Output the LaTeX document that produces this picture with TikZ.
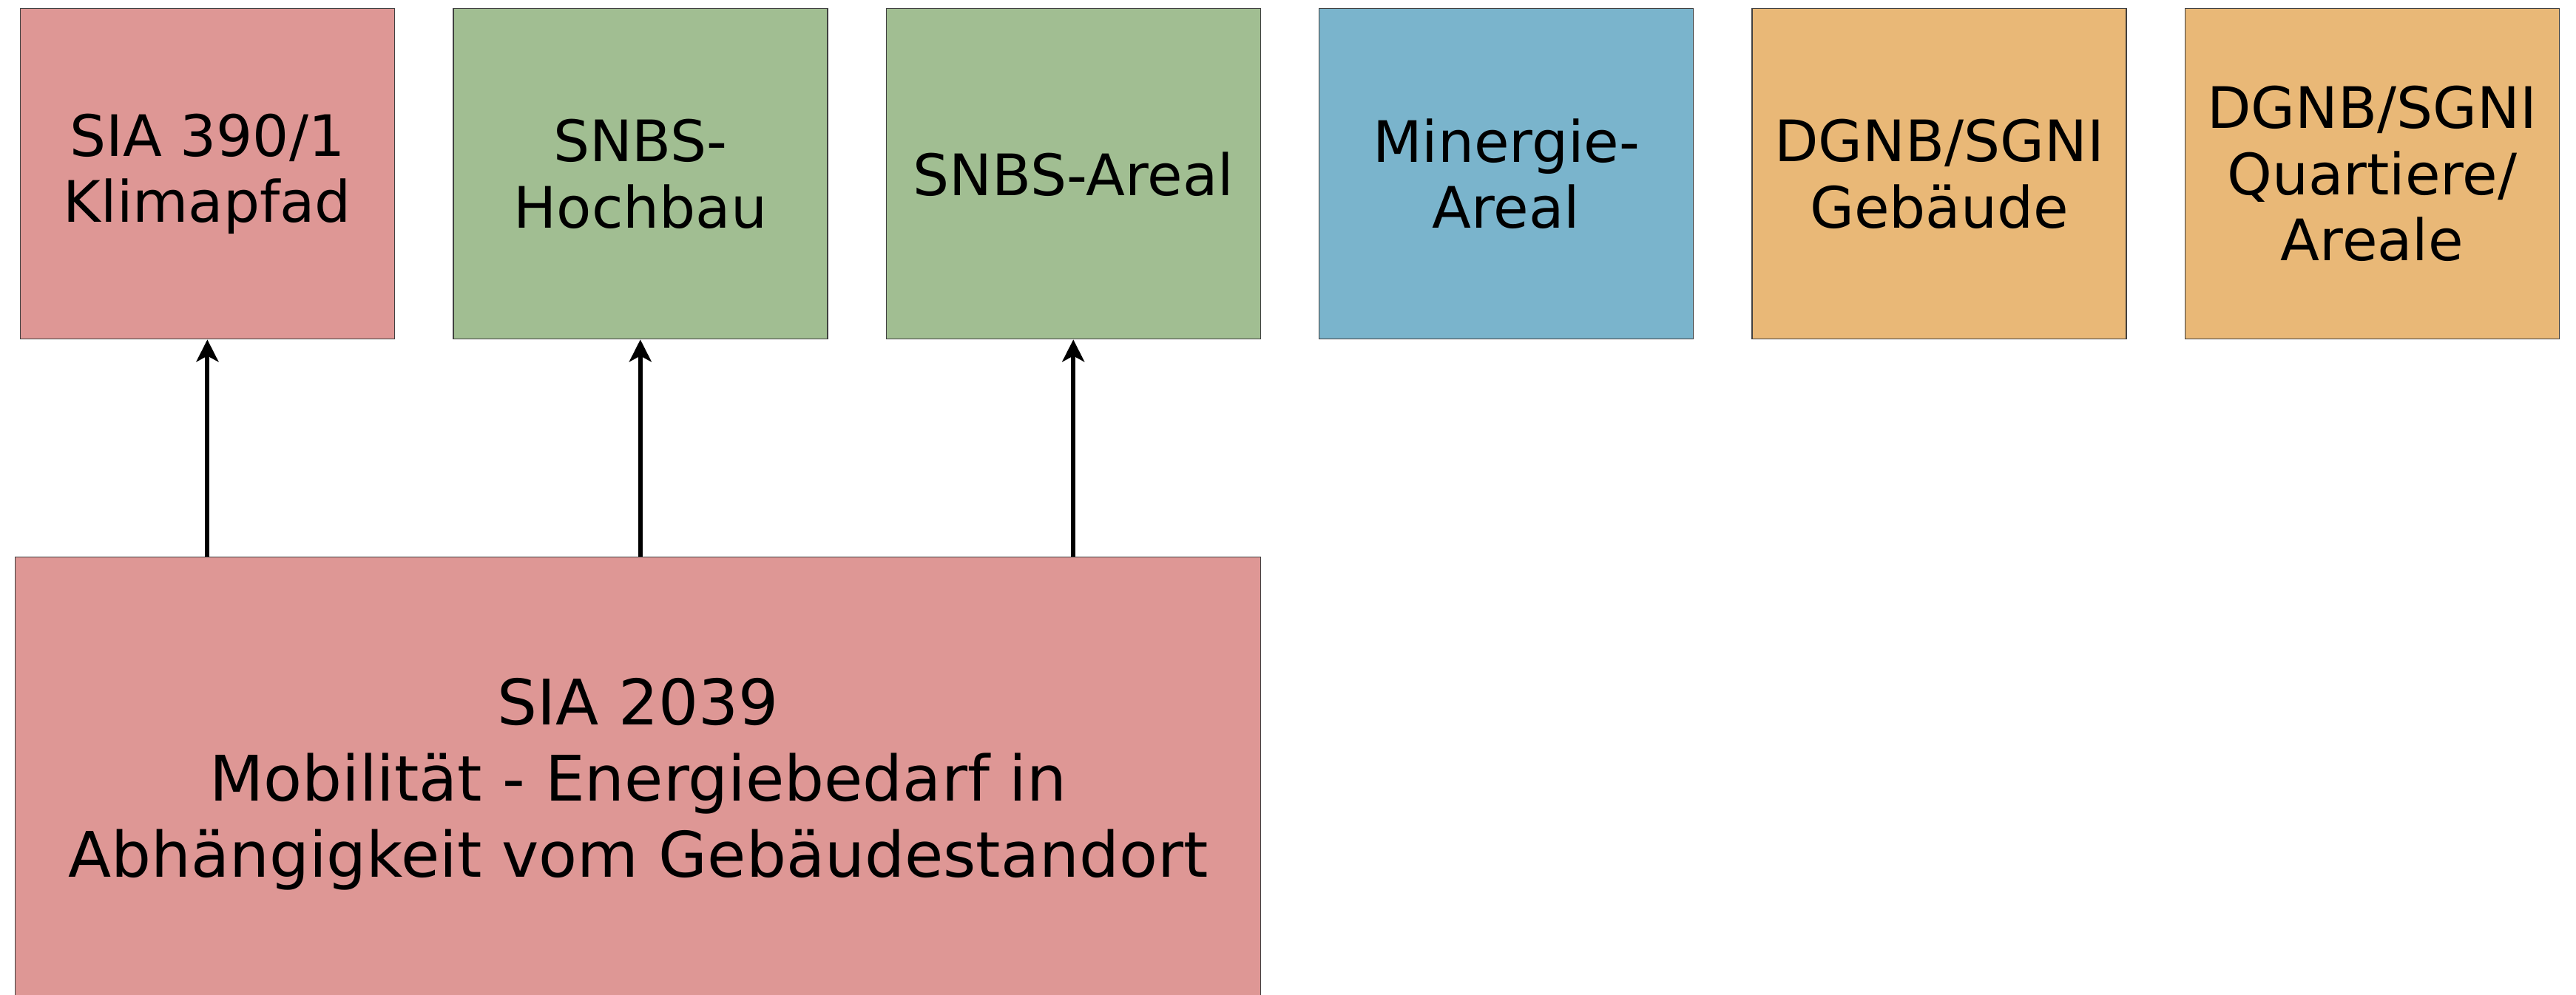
\documentclass[tikz,border=0pt]{standalone}
\usepackage{fontspec}
\setmainfont{DejaVu Sans}
\usetikzlibrary{arrows.meta,positioning}
\definecolor{rose}{HTML}{DE9795}
\definecolor{sage}{HTML}{A1BE92}
\definecolor{sky}{HTML}{7AB4CC}
\definecolor{sand}{HTML}{E9B877}
\definecolor{rim}{HTML}{404040}

\begin{document}
\begin{tikzpicture}[node distance=7.8mm, every node/.style={align=center,font=\fontsize{22}{25.5}\selectfont}, p/.style={draw=rim,line width=0.4pt,minimum width=50.6mm,minimum height=44.7mm,inner sep=0pt}, a/.style={-{Stealth[length=3mm,width=3mm,inset=0.8mm]},line width=1.7pt}]
\clip (0,0) rectangle (34.83,13.46);
\node[p,fill=rose,anchor=north west] (klima) at (0.267,13.35) {SIA 390/1\\Klimapfad};
\node[p,fill=sage,right=of klima] (hochbau) {SNBS-\\Hochbau};
\node[p,fill=sage,right=of hochbau] (areal) {SNBS-Areal};
\node[p,fill=sky,right=of areal] (minergie) {Minergie-\\Areal};
\node[p,fill=sand,right=of minergie] (gebaeude) {DGNB/SGNI\\Gebäude};
\node[p,fill=sand,right=of gebaeude] (quartiere) {DGNB/SGNI\\Quartiere/\\Areale};
\node[p,fill=rose,minimum width=168.4mm,minimum height=61.4mm,font=\fontsize{24.2}{29.3}\selectfont,anchor=north west] (sia) at (0.20,5.93) {SIA 2039\\Mobilität - Energiebedarf in\\Abhängigkeit vom Gebäudestandort};
\draw[a] (sia.north -| klima) -- (klima);\draw[a] (sia.north -| hochbau) -- (hochbau);\draw[a] (sia.north -| areal) -- (areal);
\end{tikzpicture}
\end{document}
